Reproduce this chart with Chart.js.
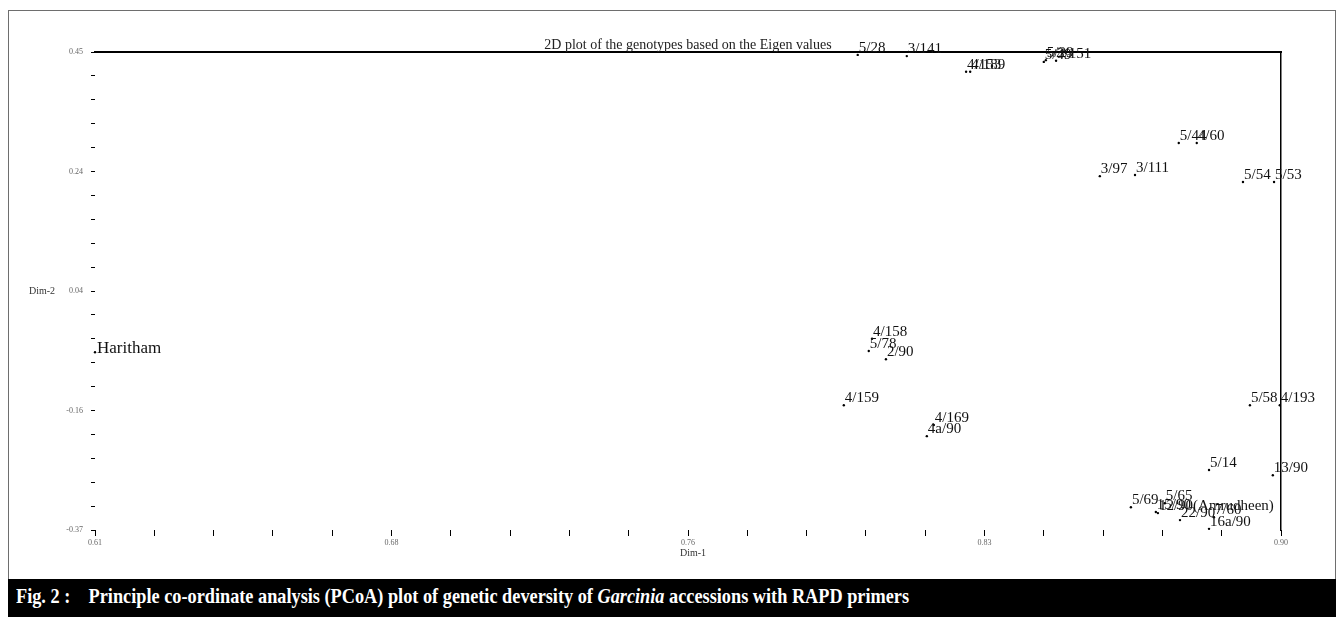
<!DOCTYPE html>
<html>
<head>
<meta charset="utf-8">
<script src="https://cdn.jsdelivr.net/npm/chart.js@4.4.1/dist/chart.umd.min.js"></script>
<style>
  html, body { margin: 0; padding: 0; background: #fff; }
  body { width: 1340px; height: 619px; position: relative; overflow: hidden; }
  #frame { position: absolute; left: 8px; top: 10px; width: 1326px; height: 568px; border: 1px solid #6e6e6e; border-bottom: none; }
  #cv { position: absolute; left: 0; top: 0; }
  #caption { position: absolute; left: 8px; top: 579px; width: 1328px; height: 38px; background: #000; }
  #caption span.txt { position: absolute; left: 8px; top: 5px; white-space: pre; color: #fff; font-family: "Liberation Serif", serif; font-weight: bold; font-size: 21px; transform: scaleX(0.87); transform-origin: left center; }
</style>
</head>
<body>
<div id="frame"></div>
<canvas id="cv" width="1340" height="619"></canvas>
<div id="caption"><span class="txt">Fig. 2 :    Principle co-ordinate analysis (PCoA) plot of genetic deversity of <i>Garcinia</i> accessions with RAPD primers</span></div>
<script>
// ---- data ----
const genotypes = ['Haritham','5/28','3/141','4/153','4/189','5/49','5/29','3/151','5/44','4/60','3/97','3/111','5/54','5/53','4/158','5/78','2/90','4/159','4/169','4a/90','5/58','4/193','5/14','13/90','5/69','5/65','15/90','12/90(Amrudheen)','22/90','7/60','16a/90'];
const dim1 = [0.610,0.7965,0.8085,0.823,0.824,0.842,0.8425,0.845,0.875,0.8794,0.8557,0.8643,0.8907,0.8983,0.800,0.7992,0.8034,0.7931,0.8151,0.8134,0.8924,0.8997,0.8824,0.898,0.8633,0.8716,0.8694,0.8699,0.8753,0.8836,0.8824];
const dim2 = [-0.065,0.445,0.443,0.416,0.416,0.433,0.436,0.435,0.294,0.294,0.237,0.239,0.227,0.227,-0.042,-0.063,-0.077,-0.156,-0.190,-0.209,-0.156,-0.156,-0.267,-0.276,-0.331,-0.324,-0.339,-0.341,-0.353,-0.348,-0.368];
const xTickLabels = ['0.61','0.68','0.76','0.83','0.90'];
const yTickLabels = ['-0.37','-0.16','0.04','0.24','0.45'];
const xRange = [0.61, 0.90];
const yRange = [-0.37, 0.45];
const plotTitle = '2D plot of the genotypes based on the Eigen values';
const xTitle = 'Dim-1';
const yTitle = 'Dim-2';

const points = dim1.map((x, i) => ({ x: x, y: dim2[i], label: genotypes[i] }));
const SUB = 20; // minor divisions per axis

function buildTicks(scale, range) {
  const t = [];
  for (let i = 0; i <= SUB; i++) t.push({ value: range[0] + (range[1] - range[0]) * i / SUB });
  scale.ticks = t;
}

const annot = {
  id: 'annot',
  afterDatasetsDraw(chart) {
    const ctx = chart.ctx;
    const meta = chart.getDatasetMeta(0);
    ctx.save();
    ctx.fillStyle = '#111';
    ctx.textAlign = 'left';
    ctx.textBaseline = 'alphabetic';
    meta.data.forEach((el, i) => {
      const lab = points[i].label;
      const big = lab === 'Haritham';
      ctx.font = (big ? '17px' : '15px') + ' "Liberation Serif"';
      ctx.fillText(lab, el.x + (big ? 2 : 1), el.y + (big ? 1 : -3));
    });
    const a = chart.chartArea;
    ctx.fillStyle = '#222';
    ctx.font = '14px "Liberation Serif"';
    ctx.textAlign = 'center';
    ctx.fillText(plotTitle, (a.left + a.right) / 2, a.top - 3);
    ctx.font = '10px "Liberation Serif"';
    ctx.fillStyle = '#333';
    ctx.textBaseline = 'middle';
    ctx.fillText(xTitle, (a.left + a.right) / 2 + 5, a.bottom + 23);
    ctx.textAlign = 'left';
    ctx.fillText(yTitle, 29, (a.top + a.bottom) / 2);
    ctx.restore();
  }
};

new Chart(document.getElementById('cv'), {
  type: 'scatter',
  data: {
    datasets: [{
      data: points,
      pointRadius: 1.2,
      pointHoverRadius: 1.2,
      pointBackgroundColor: '#000',
      pointBorderColor: '#000',
      pointBorderWidth: 0,
      clip: false
    }]
  },
  options: {
    responsive: false,
    animation: false,
    devicePixelRatio: 1,
    layout: { padding: { left: 0, top: 52, right: 59, bottom: 49 } },
    plugins: { legend: { display: false }, title: { display: false }, tooltip: { enabled: false } },
    scales: {
      x: {
        type: 'linear', position: 'bottom', min: xRange[0], max: xRange[1],
        afterBuildTicks: s => buildTicks(s, xRange),
        afterFit: s => { s.height = 40; },
        border: { display: false },
        grid: { display: true, drawOnChartArea: false, drawTicks: true, tickLength: 6, color: '#000', lineWidth: 1 },
        ticks: {
          autoSkip: false, maxRotation: 0, padding: 2, color: '#666',
          font: { family: 'Liberation Serif', size: 8 },
          callback: (v, i) => (i % 5 === 0 ? xTickLabels[i / 5] : '')
        }
      },
      xTop: {
        type: 'linear', position: 'top', min: xRange[0], max: xRange[1],
        afterFit: s => { s.height = 0; },
        border: { display: true, color: '#000', width: 2 },
        grid: { display: false },
        ticks: { display: false }
      },
      y: {
        type: 'linear', position: 'left', min: yRange[0], max: yRange[1],
        afterBuildTicks: s => buildTicks(s, yRange),
        afterFit: s => { s.width = 95; },
        border: { display: false },
        grid: { display: true, drawOnChartArea: false, drawTicks: true, tickLength: 4, color: '#000', lineWidth: 1 },
        ticks: {
          autoSkip: false, padding: 8, color: '#666',
          font: { family: 'Liberation Serif', size: 8 },
          callback: (v, i) => (i % 5 === 0 ? yTickLabels[i / 5] : '')
        }
      },
      yRight: {
        type: 'linear', position: 'right', min: yRange[0], max: yRange[1],
        afterFit: s => { s.width = 0; },
        border: { display: true, color: '#000', width: 1.5 },
        grid: { display: false },
        ticks: { display: false }
      }
    }
  },
  plugins: [annot]
});
</script>
</body>
</html>
